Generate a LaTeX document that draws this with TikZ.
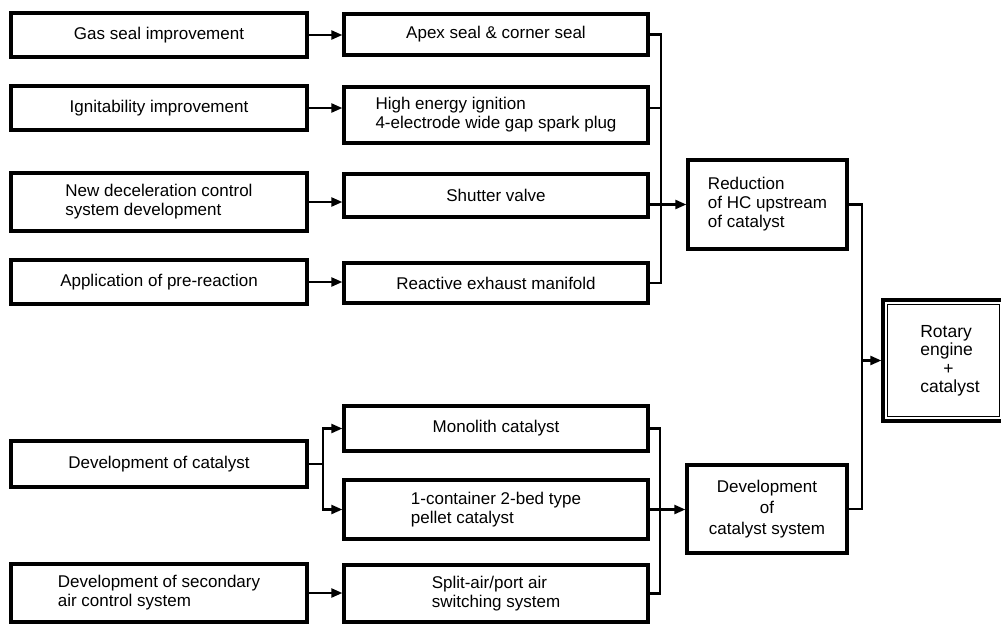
\documentclass[tikz,border=0pt]{standalone}
\usepackage{fontspec}
\setmainfont{Liberation Sans}
\usetikzlibrary{arrows.meta}
\begin{document}
\begin{tikzpicture}[x=1pt,y=-1pt,
  box/.style={draw, line width=3.3pt, inner sep=0pt, align=left,
    font=\fontsize{17}{19}\selectfont},
  wire/.style={line width=2.3pt},
  arr/.style={line width=2.3pt, -{Triangle[length=11pt,width=9pt]}},
  innerline/.style={line width=1.6pt},
  txt/.style={inner sep=0pt, align=left, font=\fontsize{17.5}{18.5}\selectfont}]
\useasboundingbox (0,0) rectangle (1001,624);
% left column
\node[box, minimum width=296pt, minimum height=44pt] (gas) at (159,35) {Gas seal improvement};
\node[box, minimum width=296pt, minimum height=44pt] (ign) at (159,108) {Ignitability improvement};
\node[box, minimum width=296pt, minimum height=58pt] (decel) at (159,202) {New deceleration control\\system development};
\node[box, minimum width=296pt, minimum height=44pt] (app) at (159,282) {Application of pre-reaction};
\node[box, minimum width=296pt, minimum height=46pt] (devcat) at (159,464) {Development of catalyst};
\node[box, minimum width=296pt, minimum height=58pt] (secair) at (159,593) {Development of secondary\\air control system};
% middle column
\node[box, minimum width=304pt, minimum height=41pt] (apex) at (496,34.5) {Apex seal \& corner seal};
\node[box, minimum width=304pt, minimum height=56pt] (high) at (496,115) {High energy ignition\\4-electrode wide gap spark plug};
\node[box, minimum width=304pt, minimum height=43pt] (shutter) at (496,195.5) {Shutter valve};
\node[box, minimum width=304pt, minimum height=40pt] (react) at (496,283) {Reactive exhaust manifold};
\node[box, minimum width=304pt, minimum height=45pt] (mono) at (496,428.5) {Monolith catalyst};
\node[box, minimum width=304pt, minimum height=59pt] (pellet) at (496,509.5) {1-container 2-bed type\\pellet catalyst};
\node[box, minimum width=304pt, minimum height=57pt] (split) at (496,593.5) {Split-air/port air\\switching system};
% right column
\node[box, minimum width=159pt, minimum height=89pt] (reduc) at (767.5,204.5) {Reduction\\of HC upstream\\of catalyst};
\node[box, minimum width=160pt, minimum height=88pt, align=center, font=\fontsize{17}{21}\selectfont] (devsys) at (767,509) {Development\\of\\catalyst system};
\node[box, minimum width=121pt, minimum height=121pt] (final) at (943.5,360.5) {};
\draw[innerline] ([xshift=6pt,yshift=6pt]final.south west) rectangle ([xshift=-6pt,yshift=-6pt]final.north east);
\node[txt] (finaltext) at (950,361) {Rotary\\engine\\\hspace*{23pt}+\\catalyst};
% junction coordinates
\coordinate (j1) at (661,0);
\coordinate (j2) at (862,0);
\coordinate (j3) at (323,0);
\coordinate (j4) at (660,0);
% left to middle arrows
\draw[arr] (gas.east) -- (gas.east -| apex.west);
\draw[arr] (ign.east |- 0,108) -- (high.west |- 0,108);
\draw[arr] (decel.east) -- (decel.east -| shutter.west);
\draw[arr] (app.east) -- (app.east -| react.west);
% upper bus
\draw[wire] (apex.east) -| (j1 |- react.east) -- (react.east);
\draw[wire] (high.east |- 0,108) -- (j1 |- 0,108);
\draw[arr] (shutter.east |- reduc.west) -- (reduc.west);
% right bus
\draw[wire] (reduc.east) -| (j2 |- devsys.east) -- (devsys.east);
\draw[arr] (j2 |- final.west) -- (final.west);
% lower fork
\draw[wire] (devcat.east) -- (j3 |- devcat.east);
\draw[arr] (j3 |- devcat.east) |- (mono.west);
\draw[arr] (j3 |- devcat.east) |- (pellet.west);
\draw[arr] (secair.east) -- (secair.east -| split.west);
% lower bus
\draw[wire] (mono.east) -| (j4 |- split.east) -- (split.east);
\draw[arr] (pellet.east) -- (pellet.east -| devsys.west);
\end{tikzpicture}
\end{document}
